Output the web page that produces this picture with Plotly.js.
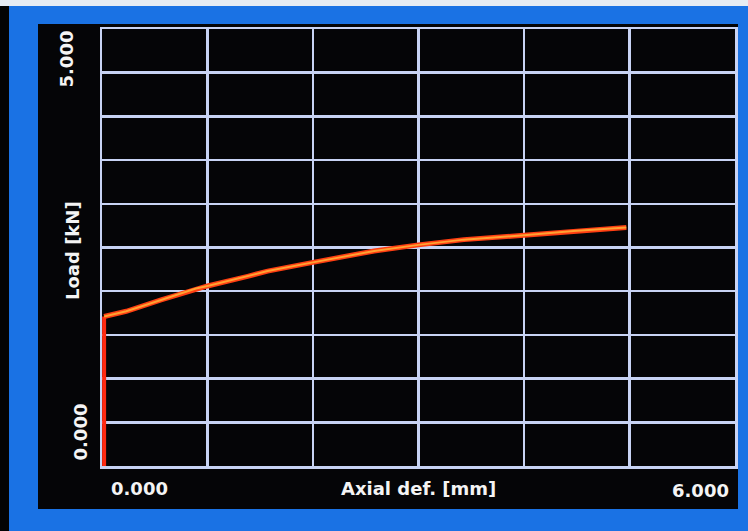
<!DOCTYPE html>
<html>
<head>
<meta charset="utf-8">
<script src="https://cdn.plot.ly/plotly-3.0.1.min.js"></script>
<style>html,body{margin:0;padding:0;background:#000;}#chart{width:748px;height:531px;}</style>
</head>
<body>
<div id="chart"></div>
<script>
// Axial deformation [mm] and load [kN]
const axialDef = [0.02, 0.02, 0.23, 0.56, 0.89, 1.0, 1.38, 1.57, 2.0, 2.58, 3.0, 3.43, 4.0, 4.47, 4.97];
const loadKN   = [0, 1.71, 1.77, 1.90, 2.03, 2.06, 2.17, 2.23, 2.33, 2.46, 2.53, 2.59, 2.64, 2.69, 2.73];
const xRange = [0, 6];
const yRange = [0, 5];
const xTickLabels = ["0.000", "6.000"];
const yTickLabels = ["0.000", "5.000"];
const xTitle = "Axial def. [mm]";
const yTitle = "Load [kN]";

const gridCol = '#c8d3f4';
const txtFont = {family: 'DejaVu Sans', size: 18, color: '#f4f4f4', weight: 'bold'};

// pixel -> paper helpers for frame decoration
const L = 102, R = 735, T = 29, B = 466;
const px = v => (v - L) / (R - L);
const py = v => (B - v) / (B - T);

const traces = [
  { // initial vertical rise (red)
    x: axialDef.slice(0, 2), y: loadKN.slice(0, 2), mode: 'lines',
    line: {color: '#ff2a12', width: 4}, hoverinfo: 'none'
  },
  { // loading curve (orange-red glow)
    x: axialDef.slice(1), y: loadKN.slice(1), mode: 'lines',
    line: {color: '#ff3e12', width: 5}, hoverinfo: 'none'
  },
  {
    x: axialDef.slice(1), y: loadKN.slice(1), mode: 'lines',
    line: {color: '#ffa232', width: 2}, hoverinfo: 'none'
  }
];

const layout = {
  width: 748, height: 531,
  margin: {l: L, r: 748 - R, t: T, b: 531 - B},
  paper_bgcolor: '#1a72e4',
  plot_bgcolor: '#060608',
  showlegend: false,
  xaxis: {
    range: xRange, dtick: 1, tick0: 0, showticklabels: false, ticks: '',
    showgrid: true, gridcolor: gridCol, gridwidth: 2.5,
    showline: true, mirror: true, linecolor: gridCol, linewidth: 2.5,
    zeroline: false, layer: 'below traces', fixedrange: true
  },
  yaxis: {
    range: yRange, dtick: 0.5, tick0: 0, showticklabels: false, ticks: '',
    showgrid: true, gridcolor: gridCol, gridwidth: 2.5,
    showline: true, mirror: true, linecolor: gridCol, linewidth: 2.5,
    zeroline: false, layer: 'below traces', fixedrange: true
  },
  shapes: [
    // black screen panel
    {type: 'rect', xref: 'paper', yref: 'paper', layer: 'below',
     x0: px(38), x1: px(738), y0: py(509), y1: py(24),
     fillcolor: '#050507', line: {width: 0}},
    // dark strip at far left
    {type: 'rect', xref: 'paper', yref: 'paper', layer: 'below',
     x0: px(0), x1: px(9), y0: py(531), y1: py(0),
     fillcolor: '#030303', line: {width: 0}},
    // light strip at top
    {type: 'rect', xref: 'paper', yref: 'paper', layer: 'below',
     x0: px(0), x1: px(748), y0: py(6), y1: py(0),
     fillcolor: '#e6ecf3', line: {width: 0}}
  ],
  annotations: [
    {xref: 'x', yref: 'paper', x: xRange[0], y: py(488), xanchor: 'left', yanchor: 'middle',
     xshift: 7, text: xTickLabels[0], showarrow: false, font: txtFont},
    {xref: 'x', yref: 'paper', x: xRange[1], y: py(490), xanchor: 'right', yanchor: 'middle',
     xshift: -4, text: xTickLabels[1], showarrow: false, font: txtFont},
    {xref: 'paper', yref: 'paper', x: px(418), y: py(488), xanchor: 'center', yanchor: 'middle',
     text: xTitle, showarrow: false, font: txtFont},
    {xref: 'paper', yref: 'y', x: px(66), y: yRange[1], xanchor: 'center', yanchor: 'top',
     textangle: -90, text: yTickLabels[1], showarrow: false, font: txtFont},
    {xref: 'paper', yref: 'y', x: px(80), y: yRange[0], xanchor: 'center', yanchor: 'bottom',
     yshift: 3, textangle: -90, text: yTickLabels[0], showarrow: false, font: txtFont},
    {xref: 'paper', yref: 'paper', x: px(73), y: py(251), xanchor: 'center', yanchor: 'middle',
     textangle: -90, text: yTitle, showarrow: false, font: txtFont}
  ]
};

Plotly.newPlot('chart', traces, layout, {displayModeBar: false, staticPlot: true});
</script>
</body>
</html>
